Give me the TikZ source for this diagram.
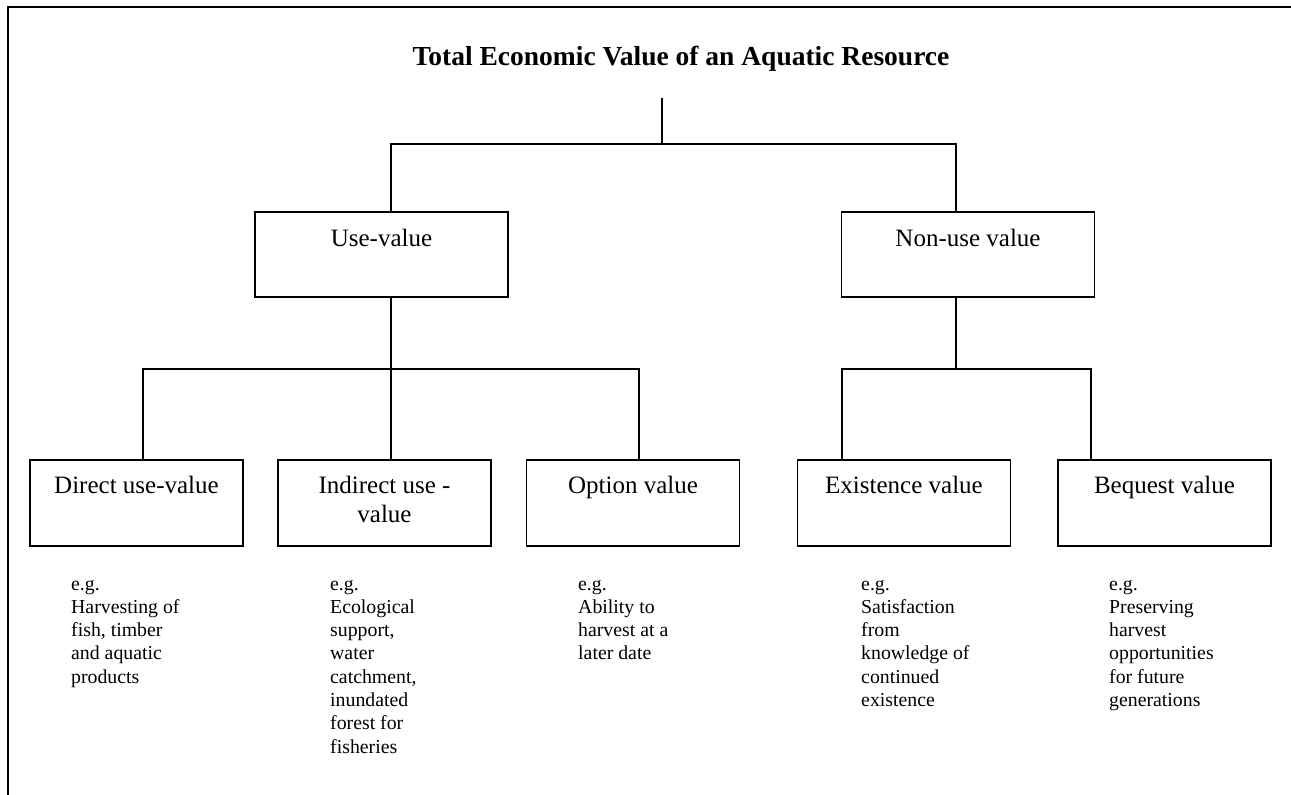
\documentclass[tikz,border=0pt]{standalone}
\usepackage{fontspec}
\setmainfont{Liberation Serif}
\begin{document}
\begin{tikzpicture}[x=1pt,y=-1pt,
  topbox/.style={draw, line width=1.5pt, minimum width=253pt, inner sep=0pt, anchor=north,
    text height=35pt, text depth=50pt, align=center, font=\fontsize{25}{29}\selectfont},
  lowbox/.style={draw, line width=1.5pt, minimum width=213pt, inner sep=0pt, anchor=north,
    text height=34pt, text depth=52pt, align=center, font=\fontsize{25}{29}\selectfont},
  example/.style={anchor=base west, inner sep=0pt, align=left, font=\fontsize{19.8}{23.3}\selectfont},
  conn/.style={line width=1.2pt},
  frame/.style={line width=2pt}]
\useasboundingbox (0,0) rectangle (1291,795);
\draw[frame] (8,795) -- (8,7) -- (1291,7);
\node[anchor=base, inner sep=0pt, font=\fontsize{27.5}{32}\selectfont\bfseries] (title) at (681,65)
  {Total Economic Value of an Aquatic Resource};
\coordinate (root) at (662,98);
\coordinate (j0) at (662,144);
\coordinate (j1) at (391,369);
\coordinate (j2) at (956,369);
\node[topbox] (use) at (381.5,211) {Use-value};
\node[topbox] (non) at (968,211) {Non-use value};
\node[lowbox] (dir) at (136.5,459) {Direct use-value};
\node[lowbox, text height=63pt, text depth=23pt] (ind) at (384.5,459) {Indirect use -\\value};
\node[lowbox] (opt) at (633,459) {Option value};
\node[lowbox] (exi) at (904,459) {Existence value};
\node[lowbox] (beq) at (1164.5,459) {Bequest value};
\draw[conn] (root) -- (j0);
\draw[conn] ([xshift=9.5pt]use.north) |- (j0) -| ([xshift=-12pt]non.north);
\draw[conn] ([xshift=9.5pt]use.south) -- (j1);
\draw[conn] ([xshift=6.5pt]dir.north) |- (j1) -| ([xshift=6pt]opt.north);
\draw[conn] (j1) -- ([xshift=6.5pt]ind.north);
\draw[conn] ([xshift=-12pt]non.south) -- (j2);
\draw[conn] ([xshift=-62pt]exi.north) |- (j2) -| ([xshift=-73.5pt]beq.north);
\node[example] (exdir) at (71,683.2) {e.g.\\Harvesting of\\fish, timber\\and aquatic\\products};
\node[example] (exind) at (330,753.1) {e.g.\\Ecological\\support,\\water\\catchment,\\inundated\\forest for\\fisheries};
\node[example] (exopt) at (578,659.9) {e.g.\\Ability to\\harvest at a\\later date};
\node[example] (exexi) at (861,706.5) {e.g.\\Satisfaction\\from\\knowledge of\\continued\\existence};
\node[example] (exbeq) at (1109,706.5) {e.g.\\Preserving\\harvest\\opportunities\\for future\\generations};
\end{tikzpicture}
\end{document}
